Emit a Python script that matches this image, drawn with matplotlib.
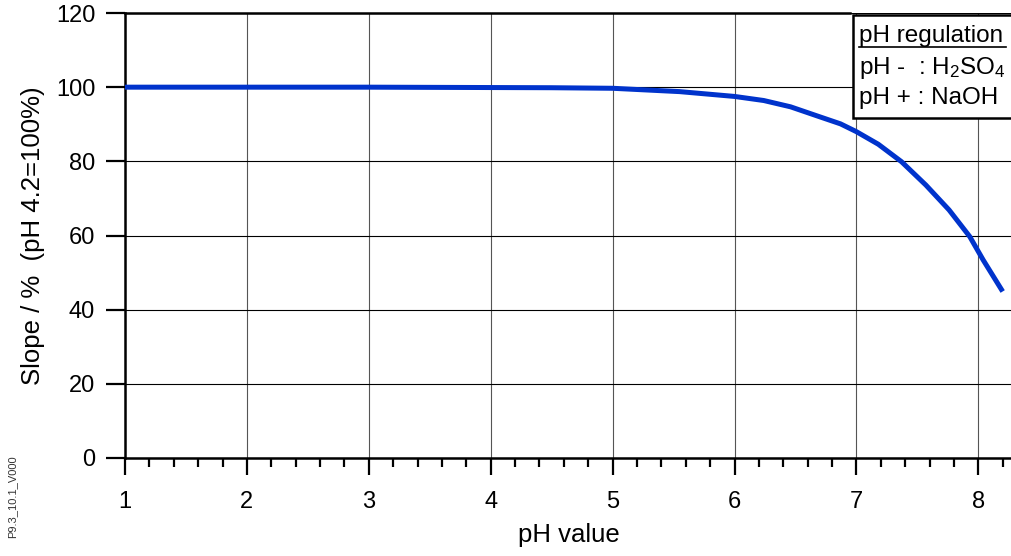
import matplotlib.pyplot as plt
from matplotlib.patches import Rectangle
from matplotlib.lines import Line2D
from matplotlib.ticker import MultipleLocator

plt.rcParams['font.family'] = ['Liberation Sans', 'DejaVu Sans']
plt.rcParams['mathtext.fontset'] = 'custom'
plt.rcParams['mathtext.rm'] = 'Liberation Sans'
plt.rcParams['mathtext.it'] = 'Liberation Sans'

# curve
ph_values = [1.0, 2.0, 3.0, 4.0, 4.5, 5.0, 5.55, 6.0, 6.24, 6.46, 6.70, 6.87, 7.0,
             7.18, 7.37, 7.57, 7.76, 7.93, 8.04, 8.2]
slope_values = [100.0, 100.0, 100.0, 99.9, 99.85, 99.7, 98.8, 97.5, 96.4, 94.7, 92.0, 90.1, 88.0,
                84.6, 79.9, 73.6, 66.9, 59.7, 53.4, 44.9]

x_ticks = [1, 2, 3, 4, 5, 6, 7, 8]
y_ticks = [0, 20, 40, 60, 80, 100, 120]

W, H = 1011, 556
fig = plt.figure(figsize=(W / 100, H / 100), dpi=100)

x_min, x_max = 1, 8.5
ax_left = 125 / W
ax_bottom = 1 - 458 / H
ax_height = (458 - 13) / H
ax_width = (x_max - x_min) * 121.9 / W
ax = fig.add_axes([ax_left, ax_bottom, ax_width, ax_height])

ax.plot(ph_values, slope_values, color='#0033CC', lw=3.6, solid_capstyle='butt',
        solid_joinstyle='round', zorder=3)

ax.set_xlim(x_min, x_max)
ax.set_ylim(0, 120)
ax.set_xticks(x_ticks)
ax.set_yticks(y_ticks)
ax.xaxis.set_minor_locator(MultipleLocator(0.2))

ax.tick_params(axis='x', which='major', direction='out', length=12, width=1.6, labelsize=17, pad=12)
ax.tick_params(axis='x', which='minor', direction='out', length=6.5, width=1.6)
ax.tick_params(axis='y', which='major', direction='out', length=13.5, width=1.6, labelsize=17, pad=8)

ax.xaxis.grid(True, which='major', color='#555555', lw=0.8)
ax.yaxis.grid(True, which='major', color='black', lw=0.8)
ax.set_axisbelow(True)

for s in ['left', 'bottom', 'top']:
    ax.spines[s].set_linewidth(1.8)
ax.spines['top'].set_bounds(1, 6.95)
ax.spines['right'].set_visible(False)

ax.set_xlabel('pH value', fontsize=18.5)
ax.xaxis.label.set_va('center')
ax.xaxis.set_label_coords((569 - 125) / (ax_width * W), (458 - 535) / 445)
ax.set_ylabel('Slope / %  (pH 4.2=100%)', fontsize=18.5, labelpad=8)

# legend box
fig.patches.append(Rectangle((853 / W, 1 - 118 / H), (W - 853 + 5) / W, (118 - 15) / H,
                             transform=fig.transFigure, facecolor='white',
                             edgecolor='black', lw=1.8, zorder=5))
fig.text(859 / W, 1 - 36 / H, 'pH regulation', fontsize=17.5, va='center', ha='left', zorder=6)
fig.lines.append(Line2D([859 / W, 1006 / W], [1 - 47 / H, 1 - 47 / H],
                        transform=fig.transFigure, color='black', lw=1.2, zorder=6))
fig.text(859 / W, 1 - 68 / H, 'pH -  : H$_2$SO$_4$', fontsize=17.5, va='center', ha='left', zorder=6)
fig.text(859 / W, 1 - 98 / H, 'pH + : NaOH', fontsize=17.5, va='center', ha='left', zorder=6)

fig.text(12 / W, 1 - 497 / H, 'P9.3_10.1_V000', fontsize=8, rotation=90,
         va='center', ha='center', color='#333333')

fig.savefig('out.png', dpi=100)
